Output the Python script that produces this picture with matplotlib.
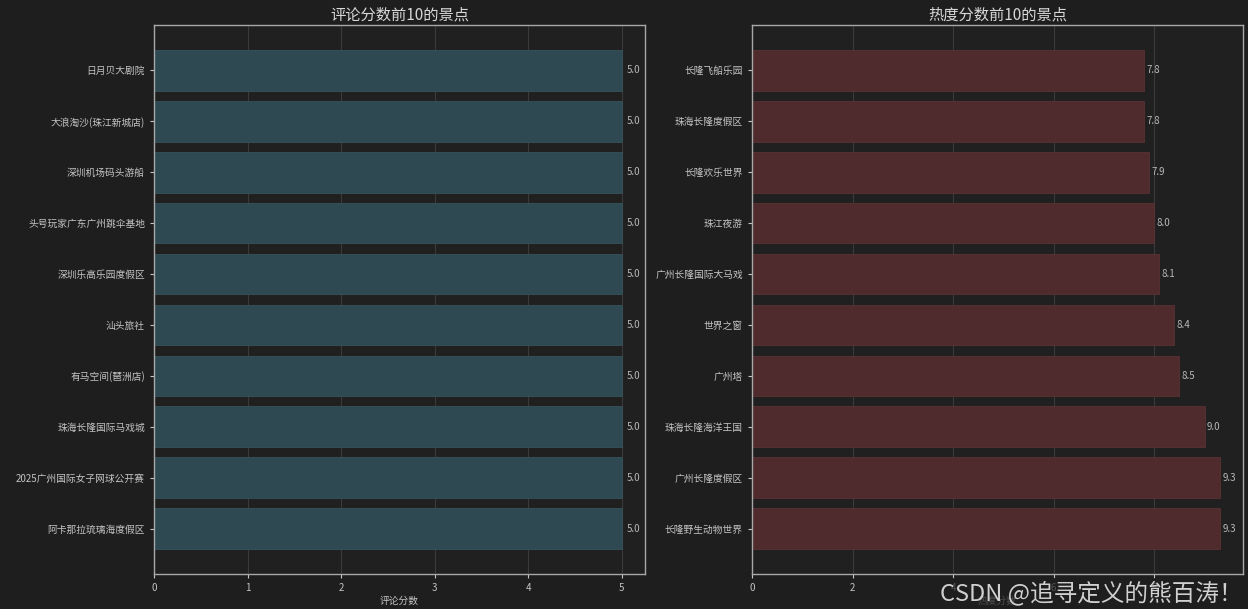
import matplotlib
matplotlib.use("Agg")
import matplotlib.pyplot as plt

plt.rcParams['font.family'] = ['Noto Sans CJK SC', 'DejaVu Sans']

# data (listed bottom -> top)
comment_names = ['阿卡那拉琉璃海度假区', '2025广州国际女子网球公开赛', '珠海长隆国际马戏城',
                 '有马空间(琶洲店)', '汕头旅社', '深圳乐高乐园度假区', '头号玩家广东广州跳伞基地',
                 '深圳机场码头游船', '大浪淘沙(珠江新城店)', '日月贝大剧院']
comment_scores = [5.0, 5.0, 5.0, 5.0, 5.0, 5.0, 5.0, 5.0, 5.0, 5.0]

heat_names = ['长隆野生动物世界', '广州长隆度假区', '珠海长隆海洋王国', '广州塔', '世界之窗',
              '广州长隆国际大马戏', '珠江夜游', '长隆欢乐世界', '珠海长隆度假区', '长隆飞船乐园']
heat_scores = [9.3, 9.3, 9.0, 8.5, 8.4, 8.1, 8.0, 7.9, 7.8, 7.8]

fig_bg = '#1e1e1e'
ax_bg = '#202020'
txt = '#c4c4c4'

fig = plt.figure(figsize=(12.48, 6.09), dpi=100, facecolor=fig_bg)
ax1 = fig.add_axes([154/1248, 1-574/609, 491/1248, 549/609])
ax2 = fig.add_axes([752/1248, 1-574/609, 491/1248, 549/609])

def draw(ax, names, vals, color, edge, title, xlabel):
    ax.set_facecolor(ax_bg)
    ax.barh(names, vals, height=0.8, color=color, edgecolor=edge, linewidth=0.6, zorder=2)
    for i, v in enumerate(vals):
        ax.text(v + 0.05, i, f'{v:.1f}', va='center', ha='left', fontsize=7, color='#b8b8b8')
    ax.set_title(title, fontsize=11, color='#d8d8d8', pad=4)
    ax.set_xlabel(xlabel, fontsize=7, color=txt, labelpad=2)
    ax.tick_params(colors=txt, labelsize=7, length=3, width=0.8)
    ax.grid(axis='x', color='#3a3a3a', linewidth=0.8, zorder=0)
    ax.set_axisbelow(True)
    for s in ax.spines.values():
        s.set_color('#a8a8a8')
        s.set_linewidth(1)

draw(ax1, comment_names, comment_scores, '#2e4952', '#36525b', '评论分数前10的景点', '评论分数')
draw(ax2, heat_names, heat_scores, '#502b2d', '#5a3234', '热度分数前10的景点', '热度分数')

fig.text(940/1248, 1-600/609, 'CSDN @追寻定义的熊百涛！', ha='left', va='baseline',
         fontsize=17, color='#d0d0d0', zorder=10,
         bbox=dict(boxstyle='square,pad=0.1', facecolor=fig_bg, edgecolor='none', alpha=0.7))

fig.savefig('out.png', dpi=100, facecolor=fig_bg)
